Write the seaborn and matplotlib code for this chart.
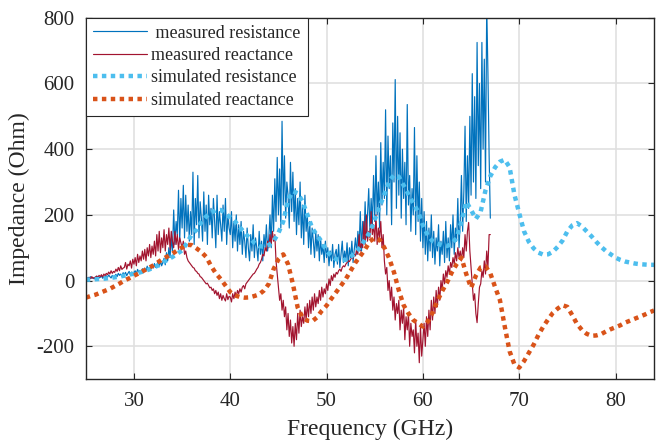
import numpy as np
import pandas as pd
import matplotlib
matplotlib.use('Agg')
import matplotlib.pyplot as plt
import seaborn as sns

# measured data, 25 GHz .. 67 GHz, step 0.125 GHz (one row per GHz)
meas_freq = np.arange(25, 67.0625, 0.125)
meas_res = [
    8, 4, 10, 6, 12, 7, 9, 5,
    11, 6, 13, 8, 10, 14, 7, 12,
    9, 15, 10, 17, 12, 8, 16, 11,
    14, 19, 12, 22, 16, 20, 13, 24,
    18, 25, 15, 22, 28, 17, 26, 20,
    24, 30, 21, 34, 26, 31, 23, 36,
    28, 38, 30, 44, 33, 40, 35, 48,
    38, 52, 40, 47, 58, 42, 60, 45,
    55, 68, 48, 85, 60, 100, 70, 130,
    90, 215, 110, 180, 140, 275, 120, 250,
    160, 290, 130, 260, 150, 230, 120, 210,
    140, 330, 110, 250, 170, 320, 130, 240,
    190, 120, 270, 150, 230, 110, 260, 170,
    220, 130, 250, 180, 100, 260, 140, 210,
    170, 120, 230, 150, 250, 110, 200, 160,
    140, 210, 100, 180, 120, 200, 90, 170,
    110, 180, 80, 150, 120, 70, 160, 100,
    60, 140, 90, 170, 70, 130, 100, 60,
    150, 80, 120, 60, 140, 100, 170, 90,
    130, 200, 100, 260, 150, 310, 180, 375,
    200, 340, 160, 485, 230, 380, 190, 300,
    260, 160, 360, 210, 330, 180, 280, 140,
    250, 170, 300, 130, 230, 110, 260, 150,
    200, 100, 180, 80, 160, 120, 70, 150,
    90, 140, 60, 130, 80, 110, 55, 120,
    70, 100, 45, 90, 60, 110, 40, 80,
    95, 50, 110, 40, 80, 120, 55, 90,
    60, 115, 45, 100, 70, 120, 55, 95,
    130, 80, 150, 100, 210, 90, 180, 120,
    240, 130, 200, 280, 150, 250, 170, 320,
    180, 380, 200, 300, 160, 420, 230, 360,
    250, 520, 200, 440, 280, 380, 170, 480,
    300, 612, 220, 500, 260, 450, 190, 400,
    250, 360, 170, 536, 230, 320, 150, 280,
    200, 466, 140, 380, 180, 300, 120, 250,
    100, 210, 80, 180, 60, 160, 90, 200,
    70, 150, 50, 130, 90, 170, 45, 120,
    80, 150, 55, 180, 70, 130, 60, 170,
    100, 200, 80, 160, 120, 250, 100, 180,
    320, 150, 270, 470, 180, 380, 220, 500,
    260, 630, 300, 560, 250, 725, 350, 600,
    280, 725, 400, 674, 300, 840, 634, 380,
    190,
]
meas_reac = [
    5, 8, 3, 10, 6, 12, 7, 9,
    10, 14, 8, 16, 12, 18, 11, 20,
    15, 22, 18, 26, 20, 30, 22, 28,
    25, 35, 28, 40, 30, 45, 34, 38,
    40, 55, 35, 50, 45, 60, 38, 65,
    50, 70, 45, 80, 55, 75, 60, 90,
    65, 95, 60, 100, 75, 110, 70, 105,
    80, 120, 75, 140, 90, 150, 85, 130,
    100, 155, 90, 140, 110, 160, 95, 150,
    120, 100, 150, 110, 140, 95, 130, 115,
    100, 120, 80, 90, 70, 60, 55, 50,
    45, 40, 38, 30, 28, 22, 20, 12,
    10, 5, 0, -5, -10, -8, -15, -22,
    -20, -30, -25, -40, -30, -45, -35, -55,
    -40, -60, -45, -55, -62, -40, -58, -48,
    -50, -65, -40, -55, -35, -50, -30, -40,
    -25, -35, -20, -15, -25, -10, -5, 0,
    5, 10, 15, 20, 22, 28, 35, 40,
    50, 55, 65, 80, 75, 100, 90, 120,
    100, 140, 110, 150, 120, 140, 60, 20,
    -20, -60, -40, -90, -60, -110, -80, -150,
    -100, -170, -120, -190, -140, -200, -130, -180,
    -100, -160, -90, -140, -110, -130, -80, -120,
    -70, -110, -60, -100, -50, -90, -40, -80,
    -50, -70, -30, -60, -20, -50, -25, -40,
    -10, -30, 5, -15, 15, 0, 20, 10,
    25, 20, 30, 35, 28, 40, 45, 42,
    50, 55, 60, 58, 65, 70, 68, 80,
    75, 95, 80, 140, 90, 120, 100, 180,
    110, 200, 120, 150, 130, 210, 140, 170,
    120, 200, 110, 160, 130, 180, 100, 140,
    60, 20, 40, -30, 0, -60, -20, -90,
    -50, -120, -70, -100, -60, -150, -90, -130,
    -80, -180, -110, -150, -100, -200, -130, -170,
    -150, -220, -120, -200, -160, -250, -140, -230,
    -180, -130, -200, -110, -170, -90, -150, -60,
    -120, -50, -100, -30, -80, -20, -60, 0,
    -30, 20, -10, 30, 10, 45, 20, 55,
    40, 70, 50, 85, 60, 100, 70, 90,
    60, 100, 70, 140, 90, 150, 177, 90,
    40, -10, -60, -40, -100, -128, -70, -20,
    -10, 30, 10, 60, 20, 90, 40, 140,
    140,
]

# simulated data, 25 GHz .. 84 GHz, step 0.5 GHz (one row per 5 GHz)
sim_freq = np.arange(25, 84.25, 0.5)
sim_res = [
    3, 3, 4, 5, 6, 8, 10, 12, 15, 18,
    21, 24, 28, 33, 39, 46, 55, 64, 72, 82,
    92, 115, 140, 155, 178, 195, 207, 214, 215, 205,
    192, 180, 162, 145, 130, 115, 105, 103, 108, 120,
    145, 180, 245, 272, 266, 241, 201, 160, 138, 118,
    90, 75, 65, 62, 63, 72, 85, 102, 125, 148,
    185, 225, 262, 302, 322, 316, 290, 262, 235, 210,
    168, 138, 120, 112, 108, 105, 112, 130, 180, 240,
    215, 188, 210, 275, 318, 345, 362, 368, 345, 262,
    205, 150, 118, 98, 85, 79, 80, 88, 103, 122,
    150, 168, 175, 165, 150, 135, 118, 103, 90, 80,
    70, 63, 58, 55, 52, 50, 49, 48, 48,
]
sim_reac = [
    -52, -47, -43, -37, -31, -25, -17, -9, 0, 7,
    15, 22, 30, 38, 46, 56, 66, 74, 82, 92,
    101, 109, 108, 98, 87, 72, 45, 22, 5, -15,
    -35, -45, -50, -52, -51, -47, -42, -30, -10, 35,
    65, 80, 50, -10, -82, -112, -122, -124, -112, -92,
    -76, -55, -35, -15, 5, 30, 55, 75, 95, 120,
    130, 124, 100, 68, 25, -30, -75, -100, -120, -130,
    -140, -125, -98, -62, -32, -6, 25, 50, 70, 20,
    -22, 15, 40, 43, 22, -20, -60, -140, -215, -255,
    -265, -245, -220, -195, -165, -140, -118, -98, -85, -75,
    -80, -105, -132, -150, -162, -168, -167, -163, -155, -148,
    -142, -136, -128, -122, -116, -110, -104, -97, -91,
]
labels = [' measured resistance', 'measured reactance',
          'simulated resistance', 'simulated reactance']

assert len(meas_res) == len(meas_freq) == len(meas_reac)
assert len(sim_res) == len(sim_freq) == len(sim_reac)

meas = pd.DataFrame({'f': meas_freq, 'R': meas_res, 'X': meas_reac})
sim = pd.DataFrame({'f': sim_freq, 'R': sim_res, 'X': sim_reac})

sns.set_theme(style='whitegrid')
plt.rcParams['font.family'] = ['Liberation Serif', 'DejaVu Serif']
plt.rcParams['axes.unicode_minus'] = False

fig = plt.figure(figsize=(6.6, 4.45), dpi=100)
ax = fig.add_axes([0.130, 0.148, 0.861, 0.812])
ax.set_facecolor('white')

dot = (0, (1, 1))
sns.lineplot(data=meas, x='f', y='R', ax=ax, color='#0072BD', lw=0.85,
             estimator=None, sort=False, legend=False)
sns.lineplot(data=meas, x='f', y='X', ax=ax, color='#A2142F', lw=0.85,
             estimator=None, sort=False, legend=False)
sns.lineplot(data=sim, x='f', y='R', ax=ax, color='#4DBEEE', lw=3.2,
             linestyle=dot, estimator=None, sort=False, legend=False)
sns.lineplot(data=sim, x='f', y='X', ax=ax, color='#D95319', lw=3.2,
             linestyle=dot, estimator=None, sort=False, legend=False)

ax.set_xlim(25, 84)
ax.set_ylim(-300, 800)
ax.set_xticks([30, 40, 50, 60, 70, 80])
ax.set_yticks([-200, 0, 200, 400, 600, 800])
ax.grid(True, color='#e0e0e0', lw=1.2)
for s in ax.spines.values():
    s.set_visible(True)
    s.set_color('#262626')
    s.set_linewidth(1.0)
ax.tick_params(direction='in', length=4.5, width=0.8, color='#262626',
               top=True, right=True, bottom=True, left=True,
               labelsize=15, labelcolor='#262626')
ax.tick_params(axis='x', pad=9)
ax.tick_params(axis='y', pad=8)
ax.set_xlabel('Frequency (GHz)', fontsize=17, color='#262626', labelpad=6)
ax.set_ylabel('Impedance (Ohm)', fontsize=17, color='#262626', labelpad=5)

leg = ax.legend(handles=ax.get_lines()[:4], labels=labels,
                loc='upper left', fontsize=13, frameon=True, fancybox=False,
                borderaxespad=0, borderpad=0.38, labelspacing=0.3,
                handlelength=3.0, handletextpad=0.25, framealpha=1)
leg.get_frame().set_edgecolor('#262626')
leg.get_frame().set_linewidth(0.8)

fig.savefig('out.png', dpi=100)
